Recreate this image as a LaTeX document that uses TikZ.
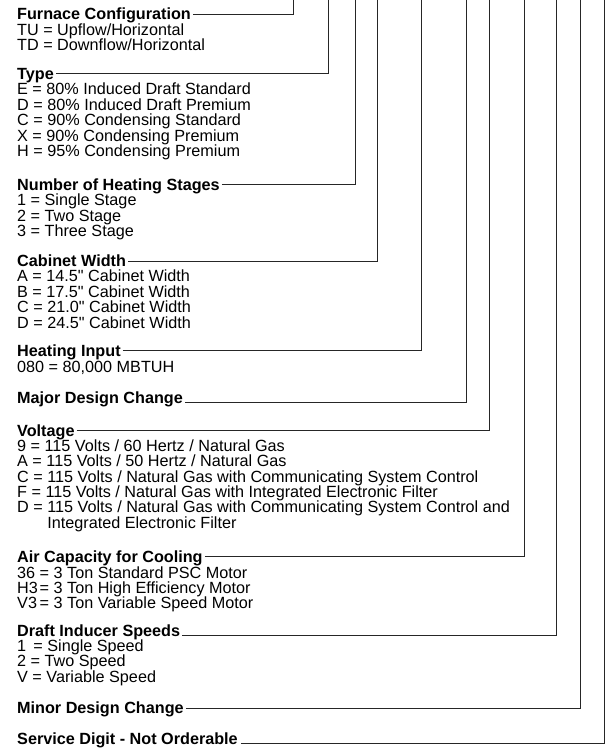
\documentclass[tikz,border=0pt]{standalone}
\usepackage{fontspec}
\setmainfont{Liberation Sans}[Ligatures=TeXOff]
\usetikzlibrary{calc}
\begin{document}
\begin{tikzpicture}[x=1bp,y=-1bp,
  txt/.style={anchor=base west,inner sep=0pt,font=\fontsize{16.2bp}{15.4bp}\selectfont},
  hdr/.style={txt,font=\fontsize{16.2bp}{15.4bp}\selectfont\bfseries},
  conn/.style={draw=black!85,line width=0.9bp}]
\useasboundingbox[fill=white] (0,0) rectangle (612,748);
\def\inch{\char34}
% top ends of the vertical leaders
\coordinate (t1) at (293,0);
\coordinate (t2) at (328,0);
\coordinate (t3) at (355,0);
\coordinate (t4) at (377,0);
\coordinate (t5) at (421,0);
\coordinate (t6) at (466,0);
\coordinate (t7) at (489,0);
\coordinate (t8) at (524,0);
\coordinate (t9) at (556,0);
\coordinate (t10) at (580,0);
\coordinate (t11) at (604,0);
% Furnace configuration
\node[hdr] (h1) at (17,20) {Furnace Configuration};
\node[txt] at (17,35.5) {TU = Upflow/Horizontal};
\node[txt] at (17,51) {TD = Downflow/Horizontal};
% Type
\node[hdr] (h2) at (17,79) {Type};
\node[txt] at (17,94.5) {E = 80\% Induced Draft Standard};
\node[txt] at (17,110) {D = 80\% Induced Draft Premium};
\node[txt] at (17,125.5) {C = 90\% Condensing Standard};
\node[txt] at (17,141) {X = 90\% Condensing Premium};
\node[txt] at (17,156.5) {H = 95\% Condensing Premium};
% Stages
\node[hdr] (h3) at (17,190) {Number of Heating Stages};
\node[txt] at (17,205.5) {1 = Single Stage};
\node[txt] at (17,221) {2 = Two Stage};
\node[txt] at (17,236.5) {3 = Three Stage};
% Cabinet
\node[hdr] (h4) at (17,266) {Cabinet Width};
\node[txt] at (17,281.5) {A = 14.5\inch{} Cabinet Width};
\node[txt] at (17,297) {B = 17.5\inch{} Cabinet Width};
\node[txt] at (17,312.5) {C = 21.0\inch{} Cabinet Width};
\node[txt] at (17,328) {D = 24.5\inch{} Cabinet Width};
% Heating input
\node[hdr] (h5) at (17,356) {Heating Input};
\node[txt] at (17,372) {080 = 80,000 MBTUH};
% Major design change
\node[hdr] (h6) at (17,403) {Major Design Change};
% Voltage
\node[hdr] (h7) at (17,436) {Voltage};
\node[txt] at (17,451.5) {9 = 115 Volts / 60 Hertz / Natural Gas};
\node[txt] at (17,466.8) {A = 115 Volts / 50 Hertz / Natural Gas};
\node[txt] at (17,482.1) {C = 115 Volts / Natural Gas with Communicating System Control};
\node[txt] at (17,497.4) {F = 115 Volts / Natural Gas with Integrated Electronic Filter};
\node[txt] at (17,512.7) {D = 115 Volts / Natural Gas with Communicating System Control and};
\node[txt] at (17,528) {\hphantom{D =}\ Integrated Electronic Filter};
% Air capacity
\node[hdr] (h8) at (17,562.5) {Air Capacity for Cooling};
\node[txt] at (17,578) {\makebox[1.39em][l]{36}= 3 Ton Standard PSC Motor};
\node[txt] at (17,593.3) {\makebox[1.39em][l]{H3}= 3 Ton High Efficiency Motor};
\node[txt] at (17,608.6) {\makebox[1.39em][l]{V3}= 3 Ton Variable Speed Motor};
% Draft inducer
\node[hdr] (h9) at (17,636) {Draft Inducer Speeds};
\node[txt] at (17,651.5) {1 \,= Single Speed};
\node[txt] at (17,666.8) {2 = Two Speed};
\node[txt] at (17,682.1) {V = Variable Speed};
% Minor
\node[hdr] (h10) at (17,713.5) {Minor Design Change};
% Service
\node[hdr] (h11) at (17,744) {Service Digit - Not Orderable};
% leaders
\draw[conn] ($(h1.base east)+(2,-6)$) -| (t1);
\draw[conn] ($(h2.base east)+(2,-6)$) -| (t2);
\draw[conn] ($(h3.base east)+(2,-6)$) -| (t3);
\draw[conn] ($(h4.base east)+(2,-5)$) -| (t4);
\draw[conn] ($(h5.base east)+(2,-6)$) -| (t5);
\draw[conn] ($(h6.base east)+(2,-1)$) -| (t6);
\draw[conn] ($(h7.base east)+(2,-6)$) -| (t7);
\draw[conn] ($(h8.base east)+(2,-6)$) -| (t8);
\draw[conn] ($(h9.base east)+(2,-1)$) -| (t9);
\draw[conn] ($(h10.base east)+(2,-5)$) -| (t10);
\draw[conn] ($(h11.base east)+(3,-1)$) -| (t11);
\end{tikzpicture}
\end{document}
